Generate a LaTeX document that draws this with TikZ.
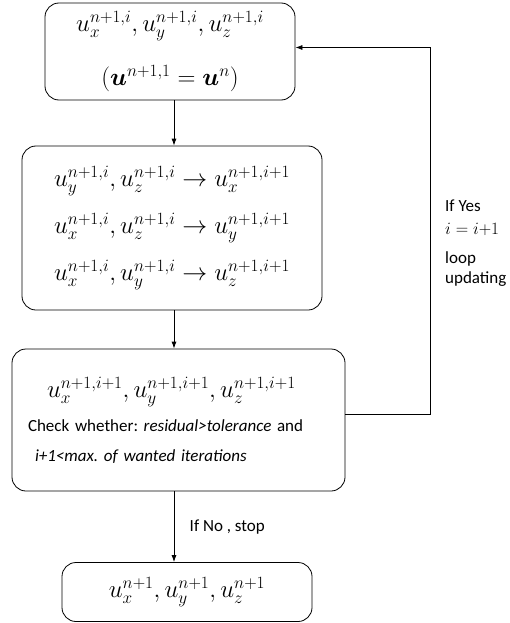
\documentclass[tikz,border=0pt]{standalone}
\usepackage{amsmath}
\usepackage{amssymb}
\usepackage{fontspec}
\setmainfont{Carlito}
\frenchspacing
\usetikzlibrary{arrows.meta, positioning, calc}

\begin{document}
\begin{tikzpicture}[
    x=1pt, y=-1pt,
    every node/.style={font=\fontsize{17}{20}\selectfont},
    stepbox/.style={draw, rounded corners=14pt, align=center, line width=0.8pt, inner sep=0pt},
    mathtext/.style={font=\fontsize{23}{27}\selectfont},
    arrow/.style={-{Latex[length=7pt, width=5pt]}, line width=0.8pt}
]
    \useasboundingbox (0,0) rectangle (509,623);

    % boxes of the iteration
    \node[stepbox, mathtext, minimum width=250pt, minimum height=97pt] (start) at (170,51.5)
        {$u_x^{n+1,i}, u_y^{n+1,i}, u_z^{n+1,i}$\\[24pt]
         $(\boldsymbol{u}^{n+1,1}=\boldsymbol{u}^n)$};
    \node[stepbox, mathtext, minimum width=300pt, minimum height=164pt] (sweep) at (172,228)
        {$u_y^{n+1,i}, u_z^{n+1,i} \rightarrow u_x^{n+1,i+1}$\\[16pt]
         $u_x^{n+1,i}, u_z^{n+1,i} \rightarrow u_y^{n+1,i+1}$\\[16pt]
         $u_x^{n+1,i}, u_y^{n+1,i} \rightarrow u_z^{n+1,i+1}$};
    \node[stepbox, minimum width=333pt, minimum height=142pt, text width=317pt, align=left] (check) at (178.5,420)
        {\hspace*{27pt}{\fontsize{26}{30}\selectfont $u_x^{n+1,i+1}, u_y^{n+1,i+1}, u_z^{n+1,i+1}$}\\[12pt]
         \hspace*{8pt}Check whether: \textit{residual>tolerance} and\\[10pt]
         \hspace*{15pt}\textit{i+1<max. of wanted iterations}};
    \node[stepbox, mathtext, minimum width=250pt, minimum height=59pt] (result) at (187,592)
        {$u_x^{n+1}, u_y^{n+1}, u_z^{n+1}$};

    \coordinate (spine) at (174,0);
    \coordinate (loopx) at (430,0);

    \draw[arrow] (start.south -| spine) -- (sweep.north -| spine);
    \draw[arrow] (sweep.south -| spine) -- (check.north -| spine);
    \draw[arrow] (check.south -| spine) -- node[right=12pt] {If No , stop} (result.north -| spine);

    % back to the start while not converged
    \draw[arrow] ([yshift=6pt]check.east) -- ([yshift=6pt]check.east -| loopx)
        -- ([yshift=4pt]start.east -| loopx) -- ([yshift=4pt]start.east);
    \node[anchor=north west, align=left, inner sep=0pt] (loopnote) at (445,200)
        {If Yes\\[3pt]{\fontsize{18}{21}\selectfont $i=i{+}1$}\\[9pt]loop\\updating};
\end{tikzpicture}
\end{document}
